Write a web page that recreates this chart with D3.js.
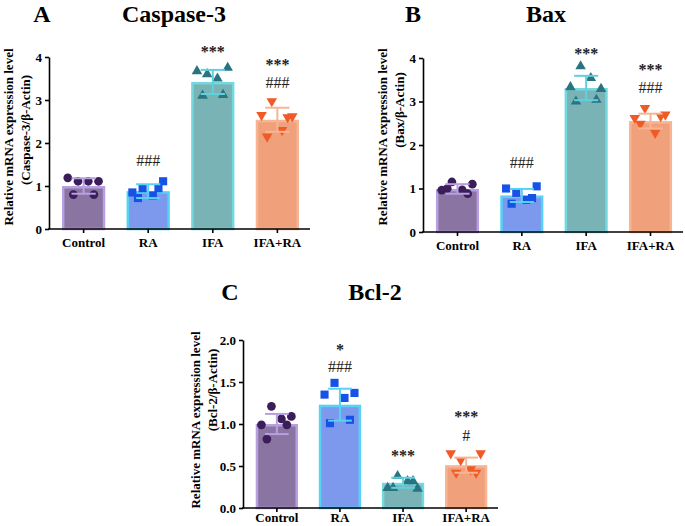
<!DOCTYPE html>
<html lang="en">
<head>
<meta charset="UTF-8">
<title>Relative mRNA expression</title>
<script src="https://d3js.org/d3.v7.min.js"></script>
<style>
    body { margin: 0; padding: 0; background: #fff; }
    svg { display: block; font-family: "Liberation Serif", "Times New Roman", serif; }
    .axis path, .axis line { stroke: #000; stroke-width: 1.6px; }
    .axis text { font-size: 13px; font-weight: bold; fill: #000; font-family: "Liberation Serif", serif; }
</style>
</head>
<body>
<div id="chart"></div>
<script>
  // groups shared by all three panels
  var groups = ['Control', 'RA', 'IFA', 'IFA+RA'];

  // A: Caspase-3
  var caspaseMean = [1.0, 0.88, 3.42, 2.54];
  var caspaseSD = [0.18, 0.16, 0.28, 0.28];
  var caspasePoints = [
    [1.19, 1.11, 1.11, 1.11, 0.80, 0.80],
    [0.85, 0.95, 0.78, 1.11, 0.72, 0.95],
    [3.67, 3.60, 3.50, 3.75, 3.10, 3.12],
    [2.65, 2.97, 2.30, 2.62, 2.15, 2.60]
  ];
  var caspaseTicks = [0, 1, 2, 3, 4];
  // [group index, label, y value]
  var caspaseSig = [[1, '###', 1.6], [2, '***', 4.2], [3, '***', 3.9], [3, '###', 3.4]];

  // B: Bax
  var baxMean = [0.99, 0.84, 3.31, 2.55];
  var baxSD = [0.11, 0.15, 0.28, 0.17];
  var baxPoints = [
    [0.96, 1.15, 0.97, 1.10, 1.00, 0.88],
    [1.00, 0.90, 0.74, 1.05, 0.65, 0.78],
    [3.33, 3.81, 3.54, 3.29, 3.00, 3.04],
    [2.62, 2.85, 2.28, 2.70, 2.49, 2.66]
  ];
  var baxTicks = [0, 1, 2, 3, 4];
  var baxSig = [[1, '###', 1.59], [2, '***', 4.17], [3, '***', 3.82], [3, '###', 3.31]];

  // C: Bcl-2
  var bclMean = [1.0, 1.23, 0.30, 0.51];
  var bclSD = [0.12, 0.19, 0.06, 0.09];
  var bclPoints = [
    [0.99, 1.21, 1.06, 1.09, 0.82, 0.99],
    [1.35, 1.49, 1.31, 1.37, 1.01, 1.05],
    [0.24, 0.38, 0.32, 0.23, 0.24, 0.32],
    [0.65, 0.57, 0.46, 0.65, 0.42, 0.42]
  ];
  var bclTicks = [0, 0.5, 1.0, 1.5, 2.0];
  var bclSig = [[1, '*', 1.93], [1, '###', 1.68], [2, '***', 0.66], [3, '***', 1.13], [3, '#', 0.86]];

  /** styles */
  var barFill = ['#8a74a2', '#7c99ee', '#79b3b6', '#f0a07b'];
  var barStroke = ['#b89fe0', '#55d2f4', '#74d8e0', '#f7b594'];
  var errColor = ['#b89fe0', '#55d2f4', '#5fd0dc', '#f7b594'];
  var dotColor = ['#3b1d5a', '#1652e6', '#2a7482', '#f05a27'];
  var symbols = [d3.symbolCircle, d3.symbolSquare, d3.symbolTriangle, d3.symbolTriangle];
  var symbolSize = [60, 66, 48, 48];
  var symbolRotate = [0, 0, 0, 180];
  // horizontal spread of the dots inside a bar (fraction of half bar width)
  var spread = [-0.85, -0.3, 0.25, 0.8, -0.55, 0.55];

  var svg = d3.select('#chart').append('svg')
    .attr('width', 685)
    .attr('height', 526);

  var panels = [
    { letter: 'A', title: 'Caspase-3', unit: '(Caspase-3/\u03b2-Actin)', mean: caspaseMean, sd: caspaseSD,
      points: caspasePoints, ticks: caspaseTicks, sig: caspaseSig, fmt: d3.format('d'),
      left: 49, right: 310, top: 57, bottom: 229, yMax: 4, xPad: 5,
      letterX: 42, titleX: 174, titleY: 22, lab1X: 8, lab2X: 25, lab1Y: 137, lab2Y: 130 },
    { letter: 'B', title: 'Bax', unit: '(Bax/\u03b2-Actin)', mean: baxMean, sd: baxSD,
      points: baxPoints, ticks: baxTicks, sig: baxSig, fmt: d3.format('d'),
      left: 423, right: 683, top: 58, bottom: 232, yMax: 4, xPad: 5,
      letterX: 413, titleX: 546, titleY: 22, lab1X: 382, lab2X: 399, lab1Y: 137, lab2Y: 110 },
    { letter: 'C', title: 'Bcl-2', unit: '(Bcl-2/\u03b2-Actin)', mean: bclMean, sd: bclSD,
      points: bclPoints, ticks: bclTicks, sig: bclSig, fmt: d3.format('.1f'),
      left: 243, right: 498, top: 340, bottom: 508, yMax: 2, xPad: 1,
      letterX: 230, titleX: 375, titleY: 300, lab1X: 195, lab2X: 212, lab1Y: 420, lab2Y: 390 }
  ];

  panels.forEach(drawPanel);

  function drawPanel(p) {
    var x = d3.scaleBand().domain(groups).range([p.left + 2, p.right]).paddingInner(0.33).paddingOuter(0.17);
    var y = d3.scaleLinear().domain([0, p.yMax]).range([p.bottom, p.top]);
    var bw = x.bandwidth();
    var g = svg.append('g');

    // title + panel letter
    g.append('text').attr('x', p.letterX).attr('y', p.titleY)
      .attr('text-anchor', 'middle').style('font-size', '24px').style('font-weight', 'bold')
      .text(p.letter);
    g.append('text').attr('x', p.titleX).attr('y', p.titleY)
      .attr('text-anchor', 'middle').style('font-size', '24px').style('font-weight', 'bold')
      .text(p.title);

    // bars
    g.selectAll('rect.bar').data(p.mean).enter().append('rect')
      .attr('class', 'bar')
      .attr('x', function (d, i) { return x(groups[i]) + 1.25; })
      .attr('width', bw - 2.5)
      .attr('y', function (d) { return y(d) + 1.25; })
      .attr('height', function (d) { return y(0) - y(d) - 1.25; })
      .attr('fill', function (d, i) { return barFill[i]; })
      .attr('stroke', function (d, i) { return barStroke[i]; })
      .attr('stroke-width', 2.5);

    // individual points
    p.points.forEach(function (vals, i) {
      var cx = x(groups[i]) + bw / 2;
      g.selectAll(null).data(vals).enter().append('path')
        .attr('d', d3.symbol().type(symbols[i]).size(symbolSize[i]))
        .attr('fill', dotColor[i])
        .attr('transform', function (d, j) {
          return 'translate(' + (cx + spread[j] * (bw / 2 - 3)) + ',' + y(d) + ') rotate(' + symbolRotate[i] + ')';
        });
    });

    // error bars (mean +/- SD)
    var capW = bw * 0.28;
    p.mean.forEach(function (m, i) {
      var cx = x(groups[i]) + bw / 2;
      var eg = g.append('g').attr('stroke', errColor[i]).attr('stroke-width', 2);
      eg.append('line').attr('x1', cx).attr('x2', cx).attr('y1', y(m - p.sd[i])).attr('y2', y(m + p.sd[i]));
      eg.append('line').attr('x1', cx - capW).attr('x2', cx + capW).attr('y1', y(m + p.sd[i])).attr('y2', y(m + p.sd[i]));
      eg.append('line').attr('x1', cx - capW).attr('x2', cx + capW).attr('y1', y(m - p.sd[i])).attr('y2', y(m - p.sd[i]));
    });

    // significance marks
    g.selectAll('text.sig').data(p.sig).enter().append('text')
      .attr('class', 'sig')
      .attr('x', function (d) { return x(groups[d[0]]) + bw / 2; })
      .attr('y', function (d) { return y(d[2]); })
      .attr('dy', function (d) { return d[1].charAt(0) === '*' ? '0.55em' : '0.34em'; })
      .attr('text-anchor', 'middle')
      .style('font-size', '16px')
      .style('font-weight', function (d) { return d[1].charAt(0) === '*' ? 'bold' : 'normal'; })
      .style('fill', '#222')
      .text(function (d) { return d[1]; });

    // axes
    g.append('g').attr('class', 'axis')
      .attr('transform', 'translate(' + p.left + ',0)')
      .call(d3.axisLeft(y).tickValues(p.ticks).tickFormat(p.fmt).tickSize(4).tickSizeOuter(0).tickPadding(3));
    var xa = g.append('g').attr('class', 'axis')
      .attr('transform', 'translate(0,' + p.bottom + ')')
      .call(d3.axisBottom(x).tickSize(4).tickSizeOuter(0).tickPadding(p.xPad));
    xa.select('.domain').attr('d', 'M' + (p.left - 1) + ',0H' + p.right);

    // y axis title (two lines)
    g.append('text')
      .attr('transform', 'translate(' + p.lab1X + ',' + p.lab1Y + ') rotate(-90)')
      .attr('text-anchor', 'middle').attr('dy', '0.35em')
      .style('font-size', '13px').style('font-weight', 'bold')
      .text('Relative mRNA expression level');
    g.append('text')
      .attr('transform', 'translate(' + p.lab2X + ',' + p.lab2Y + ') rotate(-90)')
      .attr('text-anchor', 'middle').attr('dy', '0.35em')
      .style('font-size', '13px').style('font-weight', 'bold')
      .text(p.unit);
  }
</script>
</body>
</html>
